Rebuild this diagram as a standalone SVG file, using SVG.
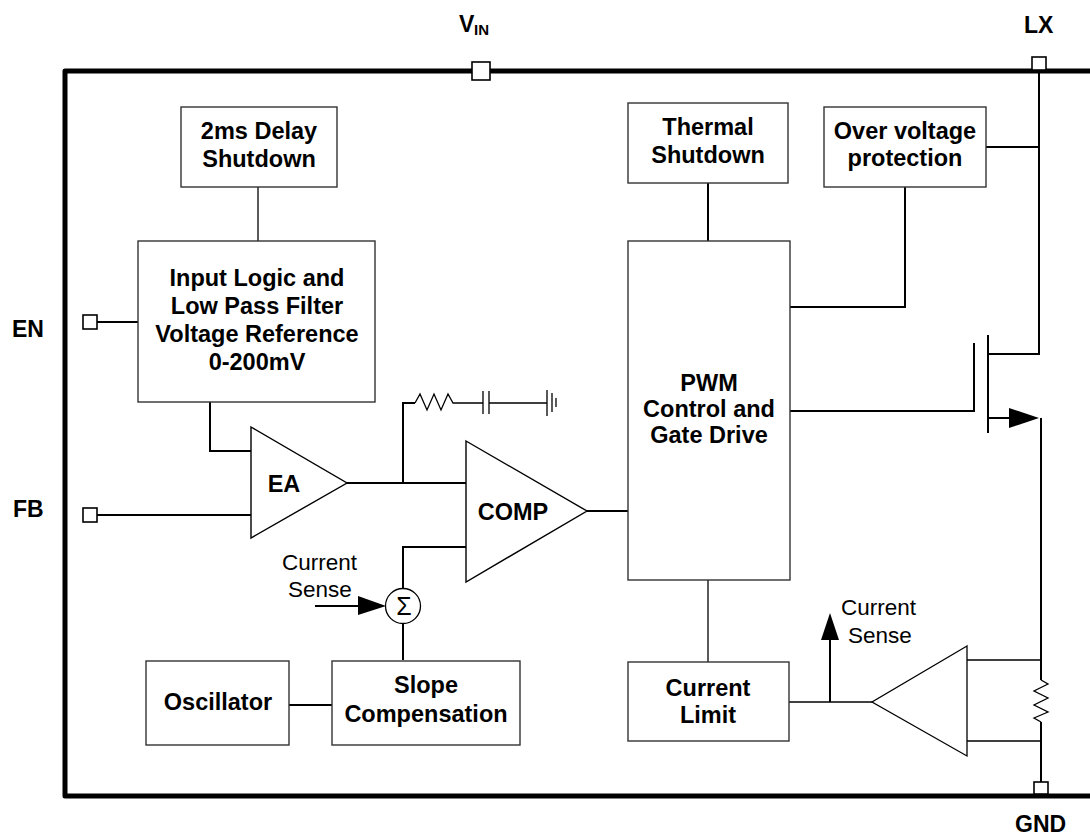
<svg xmlns="http://www.w3.org/2000/svg" width="1090" height="837" viewBox="0 0 1090 837">
<style>
.box{fill:#fff;stroke:#333;stroke-width:1.4}
.w{fill:none;stroke:#000;stroke-width:2}
.t{fill:none;stroke:#000;stroke-width:1.3}
.pin{fill:#fff;stroke:#000;stroke-width:1.6}
.b{font-family:"Liberation Sans",Arial,sans-serif;font-weight:bold;font-size:23.5px;fill:#000;text-anchor:middle}
.pl{font-family:"Liberation Sans",Arial,sans-serif;font-weight:bold;font-size:23px;fill:#000}
.r{font-family:"Liberation Sans",Arial,sans-serif;font-size:22.5px;fill:#000}
</style>
<rect width="1090" height="837" fill="#fff"/>
<g id="frame">
<path d="M1090,71 H65 V796 H1090" fill="none" stroke="#000" stroke-width="5" stroke-linejoin="round"/>
</g>
<g id="connectors">
<path class="t" d="M258,187 V241"/>
<path class="w" d="M97,322 H138"/>
<path class="w" d="M97,515 H251"/>
<path class="w" d="M210,402 V451 H251"/>
<path class="w" d="M347,483 H466"/>
<path class="w" d="M403,483 V403 H415"/>
<path class="t" d="M415,403 L420,394 L427,410 L434,394 L441,410 L448,394 L453,403 H483 M483,391 V414 M489,391 V414 M489,403 H547 M547,390 V416 M552,393 V412 M556,398 V407"/>
<path class="w" d="M403,588 V547 H466"/>
<path class="w" d="M403,624 V660"/>
<path class="w" d="M315,606 H360"/>
<polygon points="358,596 386,606 358,615" fill="#000"/>
<path class="w" d="M289,705 H332"/>
<path class="w" d="M587,511 H628"/>
<path class="w" d="M708,183 V241"/>
<path class="w" d="M905,187 V307 H790"/>
<path class="w" d="M986,147 H1039"/>
<path class="w" d="M1039,70 V354 H989"/>
<path class="w" d="M988,335 V433"/>
<path class="w" d="M974,343 V411 H790"/>
<path class="w" d="M988,418 H1012"/>
<polygon points="1009,408 1039,418 1009,428" fill="#000"/>
<path class="w" d="M1041,418 V680"/>
<path class="t" d="M1041,680 L1048,684 L1034,691 L1048,698 L1034,705 L1048,712 L1034,718 L1041,722"/>
<path class="w" d="M1041,722 V783"/>
<path class="t" d="M967,660 H1041 M967,741 H1041"/>
<path class="t" d="M872,702 H789"/>
<path class="w" d="M830,702 V636"/>
<polygon points="821,640 830,613 839,640" fill="#000"/>
<path class="t" d="M708,580 V662"/>
</g>
<g id="pins">
<rect class="pin" x="472" y="62" width="18" height="18"/>
<rect class="pin" x="1032" y="57" width="14" height="13"/>
<rect class="pin" x="1034" y="782" width="14" height="12"/>
<rect class="pin" x="83" y="315" width="14" height="14"/>
<rect class="pin" x="83" y="508" width="14" height="14"/>
<text class="pl" x="459" y="32">V</text><text class="pl" x="474" y="35" style="font-size:15px">IN</text>
<text class="pl" x="1024" y="33">LX</text>
<text class="pl" x="1015" y="832">GND</text>
<text class="pl" x="12" y="337">EN</text>
<text class="pl" x="13" y="517">FB</text>
</g>
<g id="delay">
<rect class="box" x="181" y="107" width="156" height="80"/>
<text class="b" x="259" y="139">2ms Delay</text>
<text class="b" x="259" y="167">Shutdown</text>
</g>
<g id="inputlogic">
<rect class="box" x="138" y="241" width="237" height="161"/>
<text class="b" x="257" y="286">Input Logic and</text>
<text class="b" x="257" y="314">Low Pass Filter</text>
<text class="b" x="257" y="342">Voltage Reference</text>
<text class="b" x="257" y="370">0-200mV</text>
</g>
<g id="ea">
<polygon class="box" points="251,427 347,483 251,538" style="stroke:#000"/>
<text class="b" x="284" y="492">EA</text>
</g>
<g id="comp">
<polygon class="box" points="466,441 587,511 466,582" style="stroke:#000"/>
<text class="b" x="513" y="520">COMP</text>
</g>
<g id="sigma">
<circle cx="403" cy="606" r="17.5" fill="#fff" stroke="#000" stroke-width="1.3"/>
<text class="r" x="404" y="615" text-anchor="middle" style="font-size:25px">Σ</text>
<text class="r" x="282" y="570">Current</text>
<text class="r" x="288" y="597">Sense</text>
</g>
<g id="oscillator">
<rect class="box" x="146" y="661" width="143" height="84"/>
<text class="b" x="218" y="710">Oscillator</text>
</g>
<g id="slope">
<rect class="box" x="332" y="661" width="188" height="84"/>
<text class="b" x="426" y="693">Slope</text>
<text class="b" x="426" y="722">Compensation</text>
</g>
<g id="thermal">
<rect class="box" x="628" y="103" width="160" height="80"/>
<text class="b" x="708" y="135">Thermal</text>
<text class="b" x="708" y="163">Shutdown</text>
</g>
<g id="ovp">
<rect class="box" x="824" y="107" width="162" height="80"/>
<text class="b" x="905" y="139">Over voltage</text>
<text class="b" x="905" y="166">protection</text>
</g>
<g id="pwm">
<rect class="box" x="628" y="241" width="162" height="339"/>
<text class="b" x="709" y="391">PWM</text>
<text class="b" x="709" y="417">Control and</text>
<text class="b" x="709" y="443">Gate Drive</text>
</g>
<g id="currentlimit">
<rect class="box" x="628" y="662" width="161" height="79"/>
<text class="b" x="708" y="696">Current</text>
<text class="b" x="708" y="723">Limit</text>
</g>
<g id="senseamp">
<polygon class="box" points="967,646 872,702 967,756" style="stroke:#000;stroke-width:1.3"/>
<text class="r" x="841" y="615">Current</text>
<text class="r" x="848" y="643">Sense</text>
</g>
</svg>
